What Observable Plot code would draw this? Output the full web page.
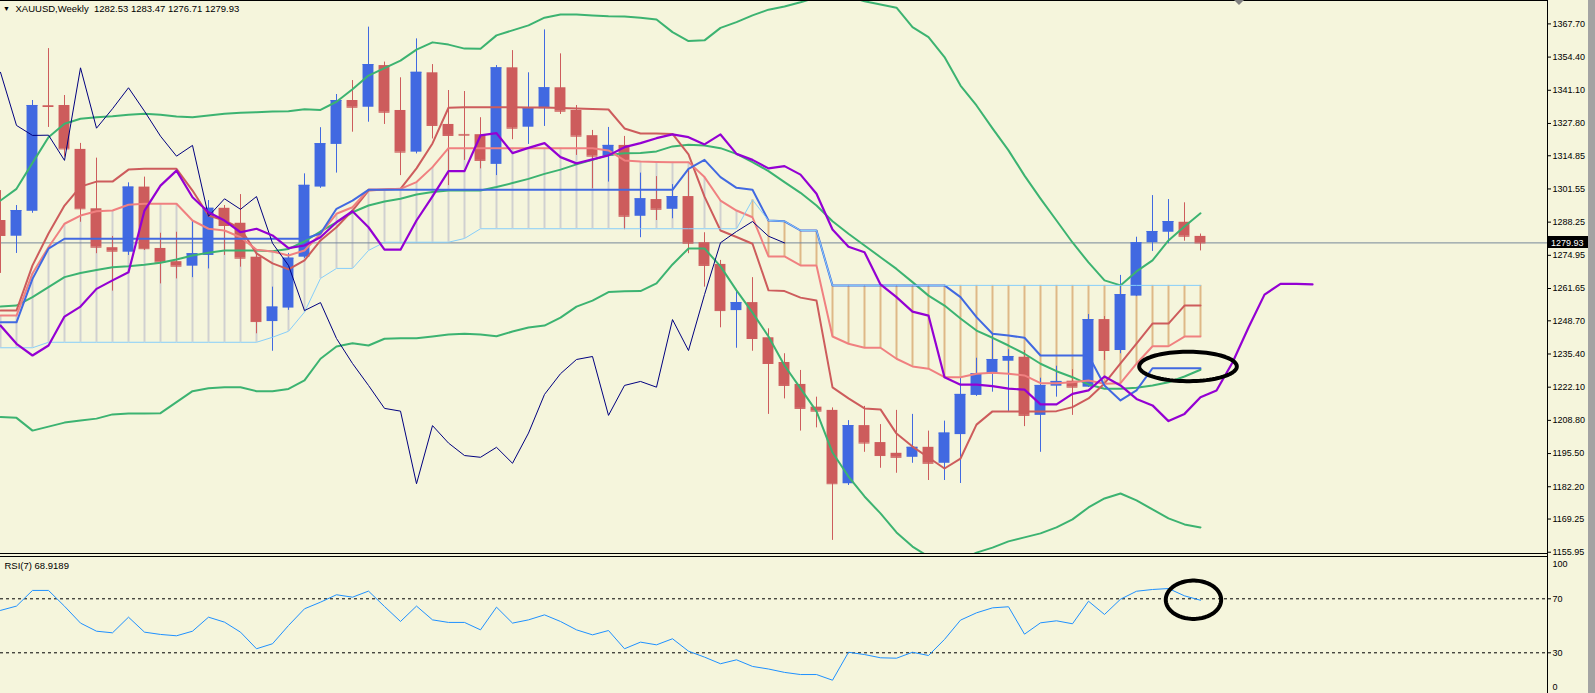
<!DOCTYPE html>
<html><head><meta charset="utf-8">
<script src="https://cdn.jsdelivr.net/npm/d3@7"></script>
<script src="https://cdn.jsdelivr.net/npm/@observablehq/plot@0.6"></script>
<style>
html,body{margin:0;padding:0;background:#a3a3a3;overflow:hidden}
#chart{width:1595px;height:693px;position:relative;background:#a3a3a3}
#chart svg{display:block;max-width:none}
</style></head><body><div id="chart"></div>
<script>
const symbol = "XAUUSD,Weekly";
const opens = [1288.9,1282.6,1292.6,1334.9,1335.0,1317.4,1293.6,1278.0,1276.2,1302.3,
 1277.7,1272.4,1270.6,1274.9,1293.8,1287.8,1274.2,1248.4,1253.8,1274.2,
 1302.3,1319.4,1337.0,1334.3,1351.0,1333.0,1316.3,1348.1,1327.4,1323.4,
 1323.3,1311.4,1350.1,1326.3,1333.7,1342.1,1333.0,1322.9,1314.7,1319.0,
 1290.6,1297.3,1293.4,1298.5,1280.0,1271.3,1252.8,1256.0,1241.9,1232.0,
 1223.2,1214.1,1212.8,1183.4,1206.7,1199.9,1195.6,1194.0,1198.0,1191.6,
 1203.1,1218.8,1227.5,1232.5,1234.1,1210.8,1222.5,1224.5,1222.1,1249.2,
 1236.8,1258.6,1280.0,1284.2,1288.2,1282.53];
const highs = [1300.9,1294.9,1337.0,1357.8,1339.0,1319.8,1313.9,1282.5,1304.0,1306.3,
 1283.8,1284.2,1288.5,1296.9,1294.9,1299.3,1276.2,1262.2,1275.7,1307.6,
 1326.1,1339.4,1345.0,1366.4,1352.4,1346.1,1361.7,1351.4,1341.0,1340.6,
 1330.1,1351.0,1357.0,1348.1,1365.3,1355.7,1335.0,1325.0,1326.2,1322.6,
 1307.9,1306.5,1303.3,1308.9,1284.0,1272.9,1261.1,1266.0,1245.5,1235.5,
 1228.8,1218.1,1213.8,1208.7,1214.4,1207.1,1212.8,1211.2,1204.5,1208.5,
 1225.6,1233.7,1243.2,1237.1,1236.8,1225.7,1230.5,1229.1,1251.2,1250.4,
 1266.9,1282.2,1298.9,1297.3,1296.0,1283.47];
const lows = [1267.7,1275.7,1291.8,1326.2,1314.3,1288.2,1275.6,1260.6,1274.9,1276.9,
 1263.5,1265.5,1266.0,1269.5,1274.9,1270.2,1243.5,1236.5,1252.9,1273.7,
 1301.8,1307.9,1324.3,1328.3,1327.4,1306.9,1315.6,1321.6,1302.9,1313.0,
 1309.6,1306.9,1321.3,1319.4,1326.6,1331.4,1315.0,1301.6,1304.3,1285.2,
 1282.0,1288.9,1289.6,1275.6,1262.2,1245.9,1237.7,1236.5,1211.2,1217.4,
 1204.5,1205.8,1160.7,1182.7,1196.0,1189.6,1187.6,1191.6,1184.7,1184.7,
 1183.5,1218.4,1220.1,1212.1,1206.3,1196.0,1218.1,1210.8,1222.0,1232.8,
 1235.5,1258.4,1276.5,1279.6,1280.6,1276.71];
const closes = [1282.9,1292.9,1335.0,1334.6,1317.6,1293.6,1278.2,1276.6,1302.3,1277.6,
 1272.2,1270.6,1275.6,1293.8,1286.9,1273.8,1248.4,1254.2,1273.8,1303.0,
 1319.7,1337.0,1334.3,1351.4,1332.3,1316.3,1348.3,1327.0,1323.0,1323.1,
 1313.0,1350.1,1325.9,1333.7,1342.1,1332.7,1322.7,1314.7,1319.0,1290.6,
 1297.6,1293.4,1298.5,1279.8,1270.9,1252.8,1256.0,1241.6,1231.6,1222.8,
 1213.6,1212.5,1183.4,1206.7,1199.7,1194.7,1194.0,1198.0,1191.6,1203.7,
 1219.2,1227.5,1233.2,1234.4,1210.8,1222.8,1224.4,1222.1,1249.2,1236.8,
 1259.2,1280.0,1284.5,1288.5,1282.6,1279.93];

const bbUpper = [1296.9,1301.6,1312.0,1322.3,1327.7,1329.7,1330.3,1330.7,1331.3,1331.7,
 1331.3,1330.6,1330.3,1331.0,1331.7,1332.1,1332.3,1332.6,1332.7,1333.5,
 1333.2,1336.5,1341.5,1347.0,1350.0,1353.0,1357.4,1360.3,1359.4,1357.8,
 1357.7,1363.1,1365.1,1367.1,1370.2,1371.5,1371.5,1371.1,1370.8,1370.7,
 1370.2,1369.5,1364.4,1360.8,1361.1,1366.1,1368.4,1371.1,1373.4,1374.7,
 1376.4,1378.3,1379.5,1378.7,1376.8,1375.5,1374.2,1366.4,1362.4,1354.4,
 1343.0,1335.0,1325.8,1317.0,1306.9,1297.7,1288.9,1280.1,1272.1,1264.9,
 1262.9,1268.5,1272.9,1280.9,1286.5,1291.8];
const bbMiddle = [1254.4,1254.8,1258.2,1262.2,1266.2,1267.9,1269.1,1270.2,1270.6,1271.2,
 1272.0,1273.3,1274.9,1276.0,1276.9,1276.9,1276.9,1276.6,1277.5,1280.5,
 1284.5,1288.2,1292.2,1294.9,1296.5,1297.6,1299.3,1300.3,1300.9,1300.9,
 1300.9,1302.3,1303.9,1305.6,1307.6,1309.3,1311.4,1313.2,1315.2,1315.9,
 1316.0,1316.6,1318.6,1319.3,1319.0,1317.9,1315.6,1312.3,1308.7,1304.3,
 1300.0,1294.9,1288.6,1283.6,1278.9,1274.2,1269.5,1264.2,1258.8,1254.8,
 1249.6,1244.8,1241.9,1238.8,1235.5,1231.5,1228.5,1226.1,1223.2,1221.5,
 1221.5,1221.9,1222.8,1224.1,1226.4,1229.1];
const bbLower = [1210.1,1209.8,1204.7,1206.3,1207.9,1208.7,1209.5,1211.2,1211.6,1211.6,
 1211.7,1216.1,1220.5,1221.7,1222.1,1222.1,1220.5,1220.5,1221.4,1224.8,
 1233.5,1238.4,1239.7,1238.8,1241.5,1241.7,1241.7,1242.4,1243.2,1243.5,
 1243.2,1242.5,1244.4,1246.0,1246.8,1250.0,1254.4,1256.8,1260.2,1260.5,
 1260.6,1263.7,1271.3,1277.7,1277.7,1270.5,1260.9,1252.0,1242.4,1230.8,
 1221.6,1212.4,1195.9,1186.3,1178.3,1171.5,1163.9,1158.2,1154.2,1151.8,
 1152.6,1155.8,1157.8,1160.3,1161.9,1163.5,1165.9,1169.1,1173.9,1177.5,
 1179.5,1176.7,1173.1,1169.5,1167.1,1165.9];

const tenkan = [1252.8,1252.8,1270.9,1283.7,1294.9,1302.5,1304.5,1304.5,1309.3,1309.6,
 1309.6,1309.6,1300.9,1290.9,1288.9,1285.7,1275.7,1271.7,1269.3,1272.9,
 1280.9,1286.2,1292.9,1300.9,1301.3,1301.6,1309.8,1319.8,1334.1,1334.3,
 1334.3,1334.3,1334.3,1334.2,1334.2,1334.0,1333.8,1333.6,1333.4,1325.8,
 1323.8,1323.8,1323.6,1315.4,1298.5,1284.9,1282.3,1279.6,1260.9,1260.6,
 1258.0,1256.8,1222.0,1217.6,1213.6,1213.2,1203.5,1198.3,1193.9,1189.5,
 1193.5,1207.1,1212.4,1212.4,1212.4,1212.4,1212.5,1214.1,1217.6,1223.6,
 1231.6,1239.6,1247.6,1247.6,1254.8,1254.8];
const spanA = [1250.8,1250.8,1267.7,1278.2,1287.6,1290.9,1292.6,1292.9,1295.2,1295.6,
 1295.6,1295.6,1288.9,1285.6,1284.9,1282.2,1277.2,1276.5,1274.9,1276.9,
 1283.6,1291.6,1294.2,1301.3,1301.3,1301.6,1304.3,1310.3,1317.9,1317.9,
 1317.9,1317.9,1317.9,1317.9,1317.9,1317.9,1317.9,1317.9,1317.0,1313.0,
 1312.6,1312.4,1312.3,1312.3,1306.3,1296.9,1292.9,1290.2,1274.5,1274.5,
 1270.9,1270.9,1242.4,1239.5,1237.9,1237.9,1233.5,1230.4,1229.5,1226.1,
 1226.1,1227.5,1227.9,1227.5,1226.8,1223.7,1223.7,1224.1,1224.8,1223.5,
 1223.7,1231.5,1238.5,1238.5,1242.4,1242.4];
const kijun = [1248.1,1248.1,1265.5,1277.6,1281.6,1281.6,1281.6,1281.6,1281.6,1281.6,
 1281.6,1281.6,1281.6,1281.6,1281.6,1281.6,1281.6,1281.6,1281.6,1281.6,
 1283.7,1293.6,1296.9,1301.2,1301.2,1301.2,1301.2,1301.2,1301.2,1301.2,
 1301.2,1301.2,1301.2,1301.2,1301.2,1301.2,1301.2,1301.2,1301.2,1301.2,
 1301.2,1301.2,1301.2,1309.6,1313.2,1306.3,1302.0,1301.2,1288.9,1288.6,
 1284.9,1284.9,1262.9,1262.9,1262.9,1262.9,1262.9,1262.9,1262.9,1262.9,
 1258.2,1250.2,1243.5,1242.8,1241.9,1234.8,1234.8,1234.8,1234.8,1222.8,
 1216.8,1220.8,1229.7,1229.7,1229.7,1229.7];
const spanB = [1237.9,1237.9,1237.9,1240.1,1240.1,1240.1,1240.1,1240.1,1240.1,1240.1,
 1240.1,1240.1,1240.1,1240.1,1240.1,1240.1,1240.1,1242.1,1244.5,1252.2,
 1265.7,1269.7,1269.7,1276.9,1280.2,1280.2,1280.2,1280.2,1280.2,1281.7,
 1285.6,1285.6,1285.6,1285.6,1285.6,1285.6,1285.6,1285.6,1285.6,1285.6,
 1285.6,1285.6,1285.6,1285.6,1285.6,1285.6,1285.6,1297.2,1288.9,1288.6,
 1284.9,1284.9,1262.9,1262.9,1262.9,1262.9,1262.9,1262.9,1262.9,1262.9,
 1262.9,1262.9,1262.9,1262.9,1262.9,1262.9,1262.9,1262.9,1262.9,1262.9,
 1262.9,1262.9,1262.9,1262.9,1262.9,1262.9];
const shiftedMA = [1246.8,1239.5,1234.8,1238.8,1250.4,1254.4,1261.5,1264.9,1268.2,1292.9,
 1302.9,1308.9,1298.2,1292.2,1288.9,1284.2,1285.6,1282.9,1277.8,1278.9,
 1282.2,1288.2,1292.6,1286.2,1277.2,1277.2,1288.9,1298.6,1308.7,1308.7,
 1323.0,1323.9,1315.9,1318.0,1319.9,1314.3,1311.8,1313.4,1315.0,1318.3,
 1319.9,1321.9,1323.4,1322.3,1319.4,1323.4,1315.6,1313.2,1309.8,1310.7,
 1307.3,1299.6,1285.3,1278.4,1276.2,1263.3,1258.2,1252.4,1250.8,1226.1,
 1223.1,1223.1,1222.5,1221.5,1221.1,1215.2,1215.2,1219.4,1220.8,1226.4,
 1222.8,1217.4,1214.8,1208.5,1211.4,1218.1,1220.8,1232.0,1246.0,1259.2,
 1263.5,1263.5,1263.3];
const chikouShift = 26;

const rsi = [61.4,64.6,76.2,76.2,64.5,52.0,46.0,44.8,56.4,45.3,
 43.6,42.6,46.0,56.4,52.7,45.3,33.0,36.7,50.2,62.6,
 67.5,73.0,71.2,75.7,64.3,53.2,64.6,54.4,52.5,52.5,
 47.0,63.8,52.0,54.4,58.1,53.2,47.0,43.3,46.5,33.0,
 37.9,35.9,40.4,31.2,26.8,21.9,24.8,19.9,18.0,15.5,
 13.9,13.9,9.7,30.4,28.7,26.3,26.0,30.4,28.0,39.9,
 54.2,59.6,63.3,64.1,43.8,52.2,53.7,51.5,68.2,58.4,
 69.7,75.6,76.9,77.6,72.2,68.9189];

const priceTicks = [1367.70,1354.40,1341.10,1327.80,1314.85,1301.55,1288.25,1274.95,1261.65,1248.70,1235.40,1222.10,1208.80,1195.50,1182.20,1169.25,1155.95];
const rsiLevels = [70, 30];
const rsiEnds = [100, 0];
const priceDomain = [1155.04, 1377.08];

// annotation rings: [centre bar, centre value, half-width in bars, half-height in values]
const priceRing = [74.22, 1230.4, 3.05, 5.9];
const rsiRing = [74.56, 69.3, 1.73, 14.2];

// ---- layout ----
const W = 1588, FRAME_RIGHT = 1547, BAR_PX = 16;
const xDomain = [0, FRAME_RIGHT / BAR_PX];
const BULL = "#4169E1", BEAR = "#CD5C5C";
const HALF = 0.34;
const font = "'Liberation Sans', Arial, sans-serif";
const BG = "#F5F5DC";

const idx = d3.range(closes.length);
const bars = idx.map(i => ({i, o: opens[i], h: highs[i], l: lows[i], c: closes[i]}));
const candleColor = d => d.c >= d.o ? BULL : BEAR;
const series = (arr, stroke, strokeWidth) =>
  Plot.line(d3.range(arr.length), {x: i => i, y: i => arr[i], stroke, strokeWidth, clip: true});
function ring([cx, cy, rx, ry]) {
  return d3.range(0, 360, 4).map(a => ({x: cx + rx * Math.cos(a * Math.PI / 180), y: cy + ry * Math.sin(a * Math.PI / 180)}));
}
const last = closes[closes.length - 1];
const header = symbol + "\u00A0\u00A0" + [opens, highs, lows, closes].map(a => a[a.length - 1].toFixed(2)).join(" ");

const main = Plot.plot({
  width: W, height: 556,
  marginLeft: 0, marginRight: W - FRAME_RIGHT, marginTop: 0, marginBottom: 2,
  style: {background: BG, fontFamily: font, fontSize: "9px", color: "#000"},
  x: {domain: xDomain, axis: null},
  y: {domain: priceDomain, axis: "right", ticks: priceTicks, tickFormat: d => d.toFixed(2), tickSize: 3, tickPadding: 2, label: null},
  color: {type: "identity"},
  marks: [
    Plot.ruleX(idx, {x: i => i, y1: i => spanA[i], y2: i => spanB[i],
      stroke: i => spanB[i] > spanA[i] ? "#DEB887" : "#D0D0D0", strokeWidth: 2, clip: true}),
    Plot.ruleY([last], {stroke: "#778899", strokeWidth: 1}),
    Plot.ruleX(bars, {x: "i", y1: "l", y2: "h", stroke: candleColor, strokeWidth: 1, clip: true}),
    Plot.rect(bars, {x1: d => d.i - HALF, x2: d => d.i + HALF, y1: "o", y2: "c", fill: candleColor, clip: true}),
    Plot.ruleY(bars, {y: "c", x1: d => d.i - HALF, x2: d => d.i + HALF, stroke: candleColor, strokeWidth: 1, clip: true}),
    series(bbUpper, "#3CB371", 2),
    series(bbMiddle, "#3CB371", 2),
    series(bbLower, "#3CB371", 2),
    series(tenkan, "#CD5C5C", 2),
    series(spanA, "#F08080", 2),
    series(kijun, "#4169E1", 2),
    series(spanB, "#87CEFA", 1),
    Plot.line(d3.range(closes.length - chikouShift), {x: i => i, y: i => closes[i + chikouShift], stroke: "#000080", strokeWidth: 1, clip: true}),
    series(shiftedMA, "#9400D3", 2.2),
    Plot.line(ring(priceRing), {x: "x", y: "y", stroke: "#000", strokeWidth: 4, curve: "linear-closed", clip: true}),
    Plot.text(["\u25BC"], {frameAnchor: "top-left", text: d => d, dx: 2.5, dy: 8.5, textAnchor: "start", lineAnchor: "middle", fontSize: 7, fill: "#000"}),
    Plot.text([header], {frameAnchor: "top-left", text: d => d, dx: 15, dy: 8, textAnchor: "start", lineAnchor: "middle", fontSize: 9.5, fill: "#000"})
  ]
});

const rsiPlot = Plot.plot({
  width: W, height: 137,
  marginLeft: 0, marginRight: W - FRAME_RIGHT, marginTop: 1.8, marginBottom: 0.2,
  style: {background: BG, fontFamily: font, fontSize: "9px", color: "#000"},
  x: {domain: xDomain, axis: null},
  y: {domain: [0, 100], axis: "right", ticks: rsiLevels, tickSize: 3, tickPadding: 2, label: null},
  marks: [
    Plot.ruleY(rsiLevels, {stroke: "#000", strokeWidth: 1, strokeDasharray: "3,3"}),
    Plot.line(idx, {x: i => i, y: i => rsi[i], stroke: "#1E90FF", strokeWidth: 1, clip: true}),
    Plot.line(ring(rsiRing), {x: "x", y: "y", stroke: "#000", strokeWidth: 4, curve: "linear-closed", clip: true}),
    Plot.text([rsiEnds[0]], {frameAnchor: "right", y: d => d, text: d => String(d), dx: 5, dy: 5.5, textAnchor: "start", lineAnchor: "middle", fill: "#000"}),
    Plot.text([rsiEnds[1]], {frameAnchor: "right", y: d => d, text: d => String(d), dx: 5, dy: -6, textAnchor: "start", lineAnchor: "middle", fill: "#000"}),
    Plot.text([`RSI(7) ${rsi[rsi.length - 1]}`], {frameAnchor: "top-left", text: d => d, dx: 4, dy: 8, textAnchor: "start", lineAnchor: "middle", fontSize: 9.5, fill: "#000"})
  ]
});

// frame borders, current price tag, chart-shift marker
const sm = d3.select(main);
const yLast = main.scale("y").apply(last);
sm.append("rect").attr("x", FRAME_RIGHT + 1).attr("y", Math.round(yLast) - 6).attr("width", 41).attr("height", 12).attr("fill", "#000");
sm.append("text").attr("x", FRAME_RIGHT + 4).attr("y", yLast).attr("dy", "0.35em").attr("fill", "#fff")
  .attr("text-anchor", "start").attr("font-size", 9).attr("font-family", font).text(last.toFixed(2));
sm.append("line").attr("x1", 0).attr("x2", FRAME_RIGHT).attr("y1", 0.5).attr("y2", 0.5).attr("stroke", "#000");
sm.append("line").attr("x1", 0).attr("x2", FRAME_RIGHT).attr("y1", 553.5).attr("y2", 553.5).attr("stroke", "#000");
sm.append("line").attr("x1", FRAME_RIGHT + 0.5).attr("x2", FRAME_RIGHT + 0.5).attr("y1", 0).attr("y2", 556).attr("stroke", "#000");
sm.append("path").attr("d", "M1234,0L1244,0L1239,5Z").attr("fill", "#808080");

const sr = d3.select(rsiPlot);
sr.append("line").attr("x1", 0).attr("x2", FRAME_RIGHT).attr("y1", 0.5).attr("y2", 0.5).attr("stroke", "#000");
sr.append("line").attr("x1", FRAME_RIGHT + 0.5).attr("x2", FRAME_RIGHT + 0.5).attr("y1", 0).attr("y2", 137).attr("stroke", "#000");

const host = document.getElementById("chart");
host.appendChild(main);
host.appendChild(rsiPlot);
</script></body></html>
